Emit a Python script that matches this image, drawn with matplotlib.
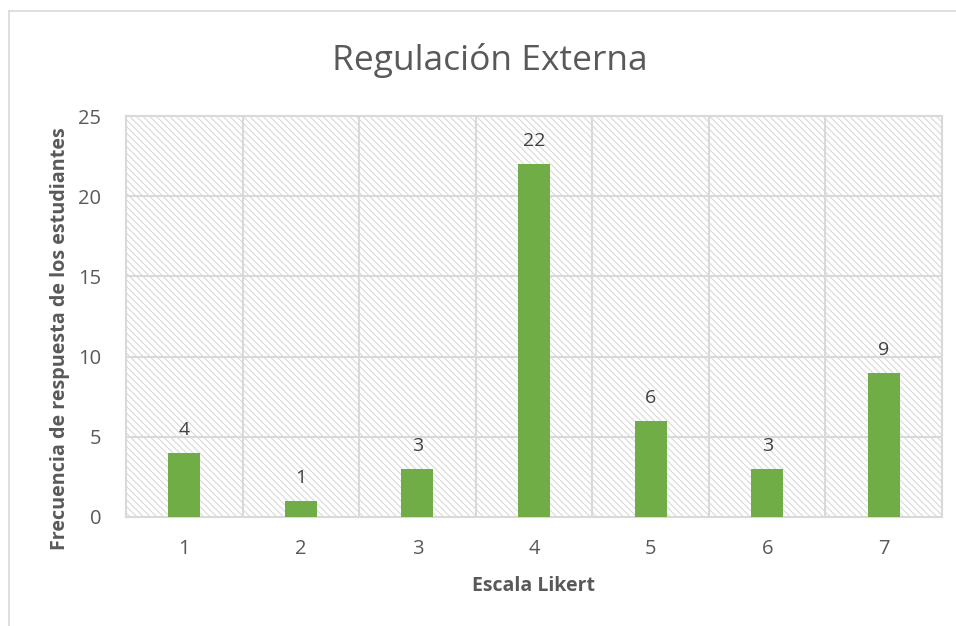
import matplotlib
matplotlib.use("Agg")
import matplotlib.pyplot as plt
from matplotlib.lines import Line2D

categories = ["1", "2", "3", "4", "5", "6", "7"]
values = [4, 1, 3, 22, 6, 3, 9]
yticks = [0, 5, 10, 15, 20, 25]
title = "Regulación Externa"
xlabel = "Escala Likert"
ylabel = "Frecuencia de respuesta de los estudiantes"

plt.rcParams['font.family'] = ['Open Sans', 'DejaVu Sans']
plt.rcParams['hatch.color'] = '#cfcfcf'
plt.rcParams['hatch.linewidth'] = 0.8

fig = plt.figure(figsize=(9.56, 6.26), dpi=100)
ax = fig.add_axes([126/956, 1 - 517/626, (942-126)/956, (517-116)/626])

# hatched background
ax.axhspan(0, 25, facecolor='white', edgecolor='#d9d9d9', hatch='\\\\\\\\\\', linewidth=0, zorder=0)

x = list(range(len(categories)))
bars = ax.bar(x, values, width=0.275, color='#70ad47', zorder=3)
for xi, v in zip(x, values):
    ax.text(xi, v + 0.85, str(v), ha='center', va='bottom', fontsize=14, color='#404040', zorder=4)

ax.set_xlim(-0.5, len(categories) - 0.5)
ax.set_ylim(0, 25)
ax.set_yticks(yticks)
ax.set_xticks(x)
ax.set_xticklabels(categories)
for xv in [i + 0.5 for i in range(len(categories) - 1)]:
    ax.axvline(xv, color='#d9d9d9', linewidth=1.5, zorder=1)
for yv in yticks[1:-1]:
    ax.axhline(yv, color='#d9d9d9', linewidth=1.5, zorder=1)
for s in ax.spines.values():
    s.set_color('#d9d9d9')
    s.set_linewidth(1.5)
ax.tick_params(length=0, labelsize=14.5, labelcolor='#595959')
ax.tick_params(axis='x', pad=16)
ax.tick_params(axis='y', pad=18)

ax.set_xlabel(xlabel, fontsize=14, fontweight='bold', color='#595959', labelpad=12)
ax.set_ylabel(ylabel, fontsize=14.2, fontweight='bold', color='#595959', va='center')
ax.yaxis.set_label_coords((60 - 126) / 816, (517 - 339) / 401)
fig.text(490/956, 1 - 60/626, title, ha='center', va='center', fontsize=25.5, color='#595959')

# outer chart border (left and top visible)
fig.add_artist(Line2D([9/956, 9/956], [0, 1 - 11/626], transform=fig.transFigure, color='#d9d9d9', linewidth=1.2))
fig.add_artist(Line2D([9/956, 1], [1 - 11/626, 1 - 11/626], transform=fig.transFigure, color='#d9d9d9', linewidth=1.2))

fig.savefig('out.png', dpi=100)
